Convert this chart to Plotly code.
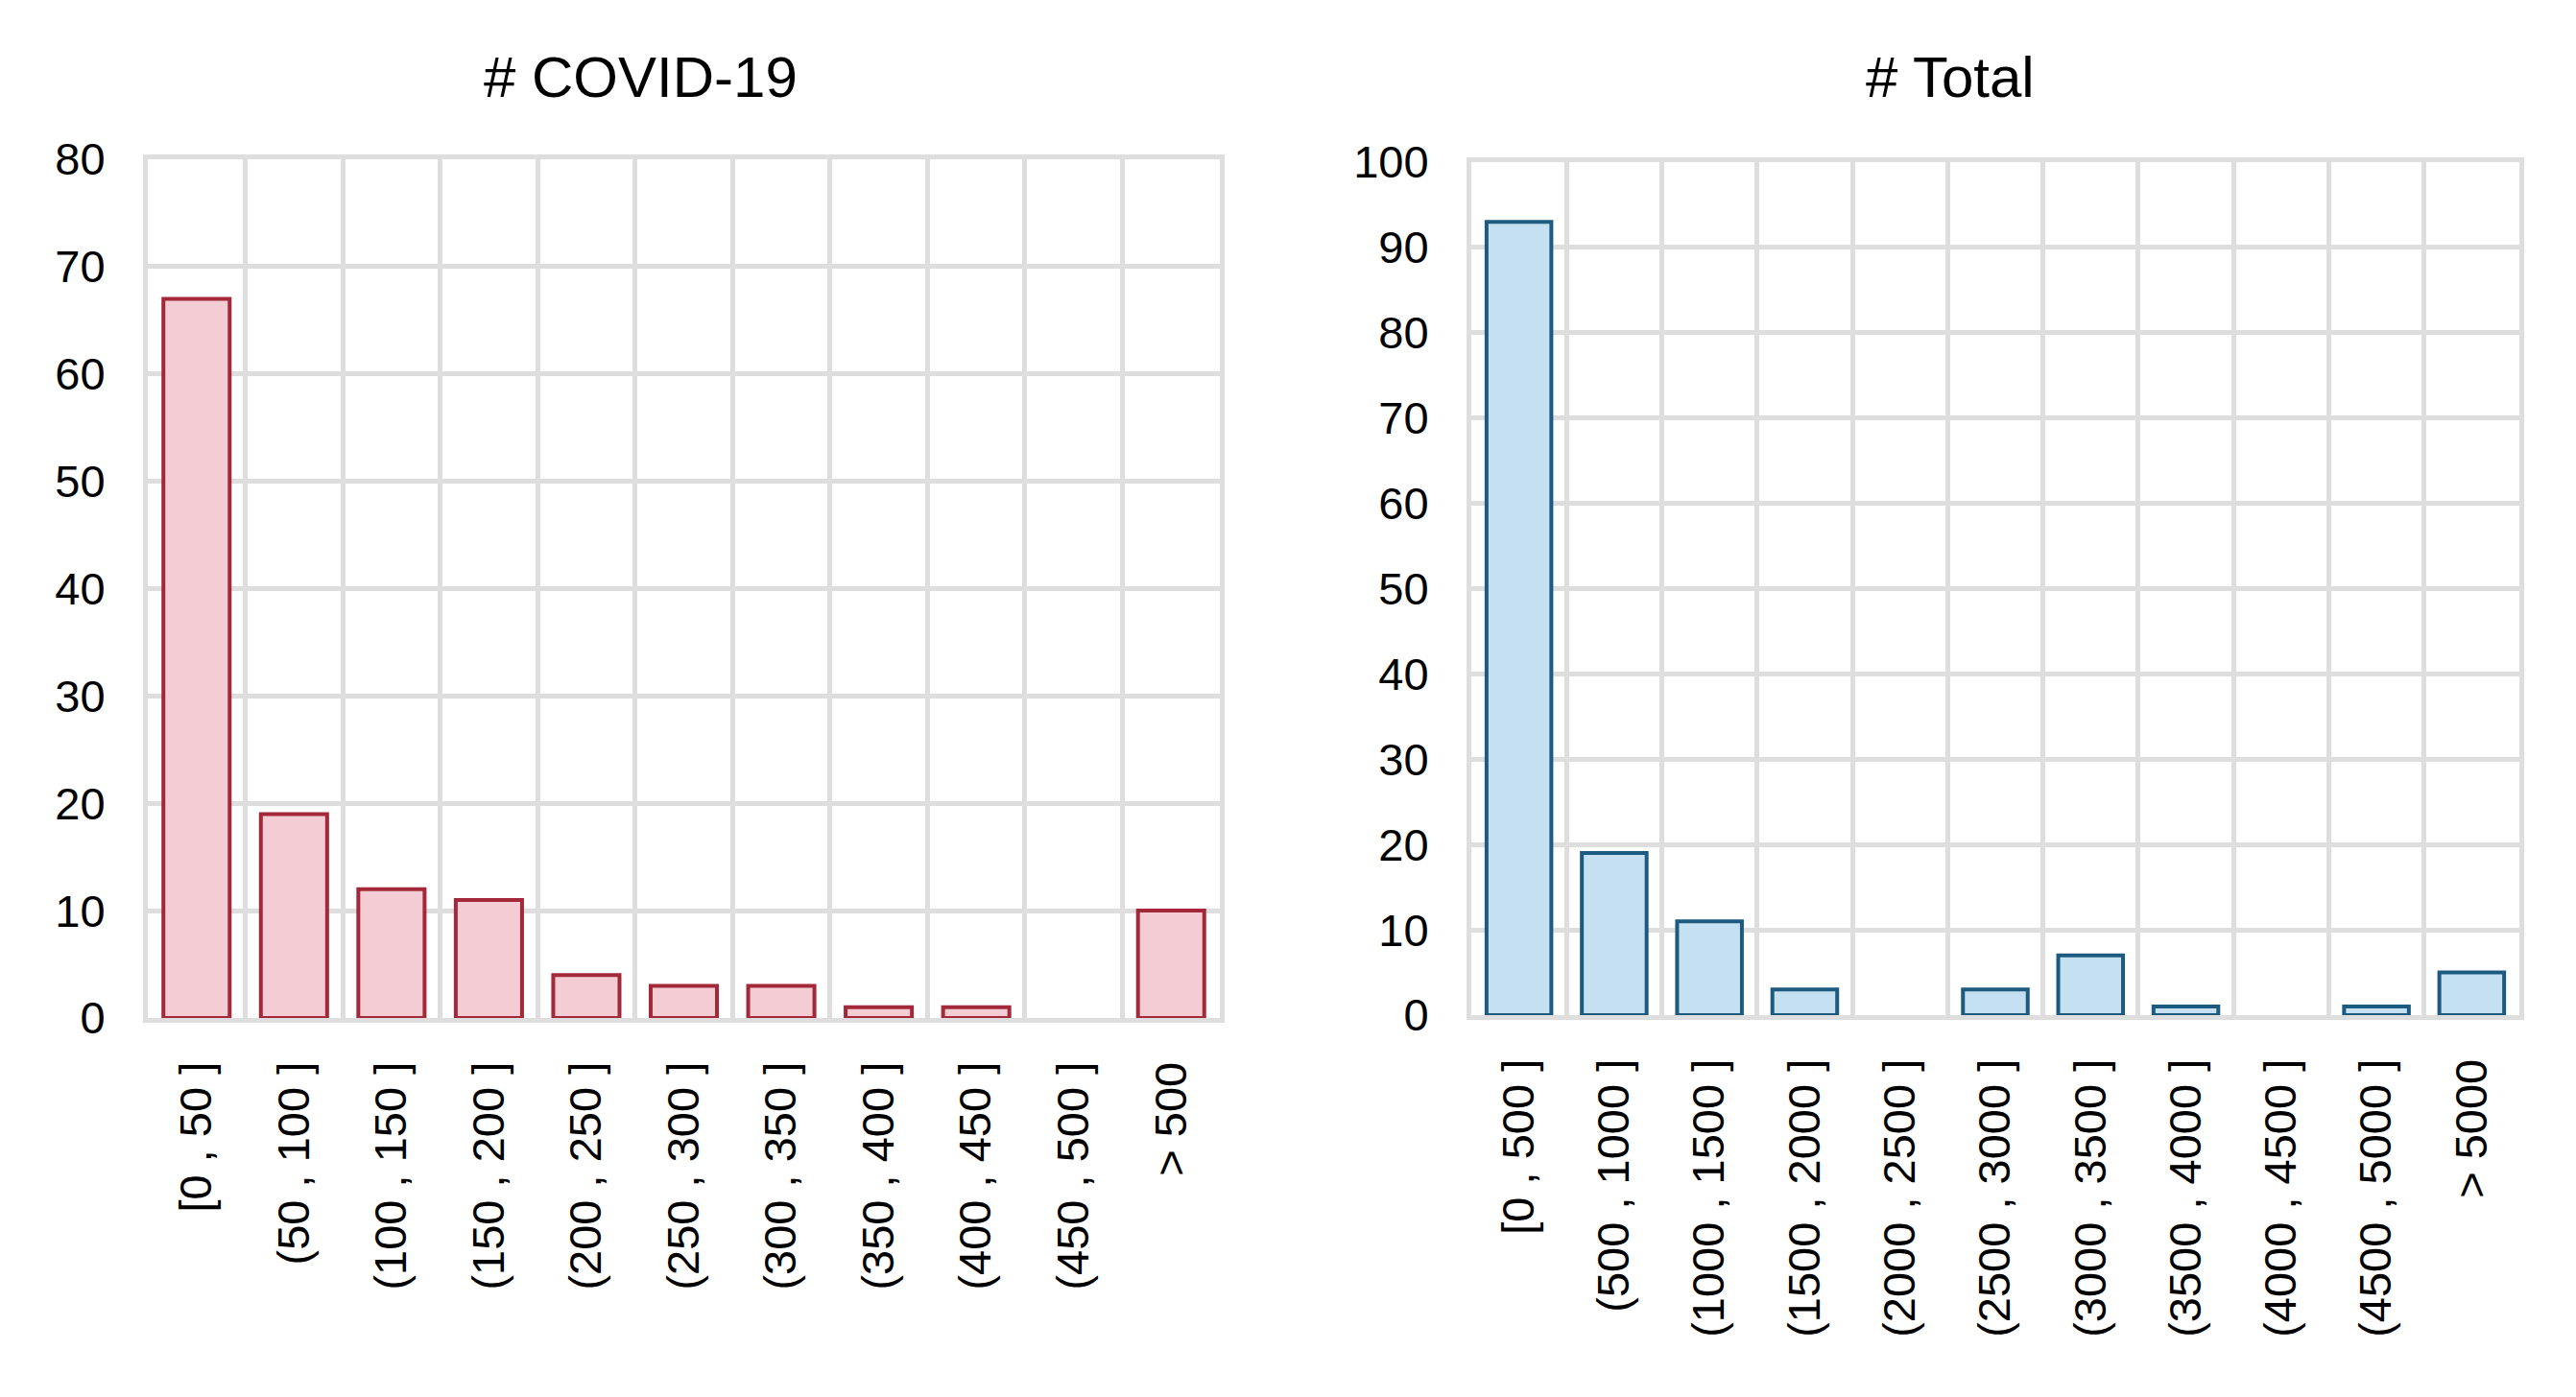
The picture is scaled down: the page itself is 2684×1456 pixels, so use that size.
import plotly.graph_objects as go

W, H = 2684, 1456
OFF = 8  # default page body margin

covid_cats = ["[0 , 50 ]", "(50 , 100 ]", "(100 , 150 ]", "(150 , 200 ]", "(200 , 250 ]",
              "(250 , 300 ]", "(300 , 350 ]", "(350 , 400 ]", "(400 , 450 ]", "(450 , 500 ]", "> 500"]
covid_vals = [67, 19, 12, 11, 4, 3, 3, 1, 1, 0, 10]

total_cats = ["[0 , 500 ]", "(500 , 1000 ]", "(1000 , 1500 ]", "(1500 , 2000 ]", "(2000 , 2500 ]",
              "(2500 , 3000 ]", "(3000 , 3500 ]", "(3500 , 4000 ]", "(4000 , 4500 ]", "(4500 , 5000 ]", "> 5000"]
total_vals = [93, 19, 11, 3, 0, 3, 7, 1, 0, 1, 5]

titles = ["# COVID-19", "# Total"]

FONT = "Liberation Sans, Arial, sans-serif"
GRID = "#dedede"


def px_x(p):
    return (p - OFF) / W


def px_y(p):
    return 1 - (p - OFF) / H


fig = go.Figure()
fig.add_trace(go.Bar(x=covid_cats, y=covid_vals, xaxis="x", yaxis="y",
                     marker=dict(color="#f3cdd3",
                                 line=dict(color="#a3283a", width=[4 if v else 0 for v in covid_vals])),
                     showlegend=False))
fig.add_trace(go.Bar(x=total_cats, y=total_vals, xaxis="x2", yaxis="y2",
                     marker=dict(color="#c5e1f1",
                                 line=dict(color="#1d5a80", width=[4 if v else 0 for v in total_vals])),
                     showlegend=False))


def xaxis(dom, anchor):
    return dict(domain=dom, anchor=anchor, type="category", tickson="boundaries",
                showgrid=True, gridcolor=GRID, gridwidth=5,
                showline=True, linecolor=GRID, linewidth=5, mirror=True,
                ticks="", tickangle=-90, ticklabelstandoff=22,
                tickfont=dict(family=FONT, size=47, color="black"))


def yaxis(dom, anchor, top):
    return dict(domain=dom, anchor=anchor, range=[0, top], dtick=10,
                showgrid=True, gridcolor=GRID, gridwidth=5,
                showline=True, linecolor=GRID, linewidth=5, mirror=True,
                zeroline=False, ticks="", ticklabelstandoff=30,
                tickfont=dict(family=FONT, size=47, color="black"))


fig.update_layout(
    width=W, height=H,
    margin=dict(l=0, r=0, t=0, b=0, autoexpand=False),
    paper_bgcolor="white", plot_bgcolor="white",
    bargap=0.32,
    xaxis=xaxis([px_x(154), px_x(1271)], "y"),
    yaxis=yaxis([px_y(1061), px_y(166)], "x", 80),
    xaxis2=xaxis([px_x(1533), px_x(2625)], "y2"),
    yaxis2=yaxis([px_y(1058), px_y(169)], "x2", 100),
    annotations=[
        dict(text=titles[0], x=px_x(667), y=px_y(80), xref="paper", yref="paper",
             showarrow=False, xanchor="center", yanchor="middle",
             font=dict(family=FONT, size=60, color="black")),
        dict(text=titles[1], x=px_x(2032), y=px_y(80), xref="paper", yref="paper",
             showarrow=False, xanchor="center", yanchor="middle",
             font=dict(family=FONT, size=60, color="black")),
    ],
)

fig.write_html("out.html")
